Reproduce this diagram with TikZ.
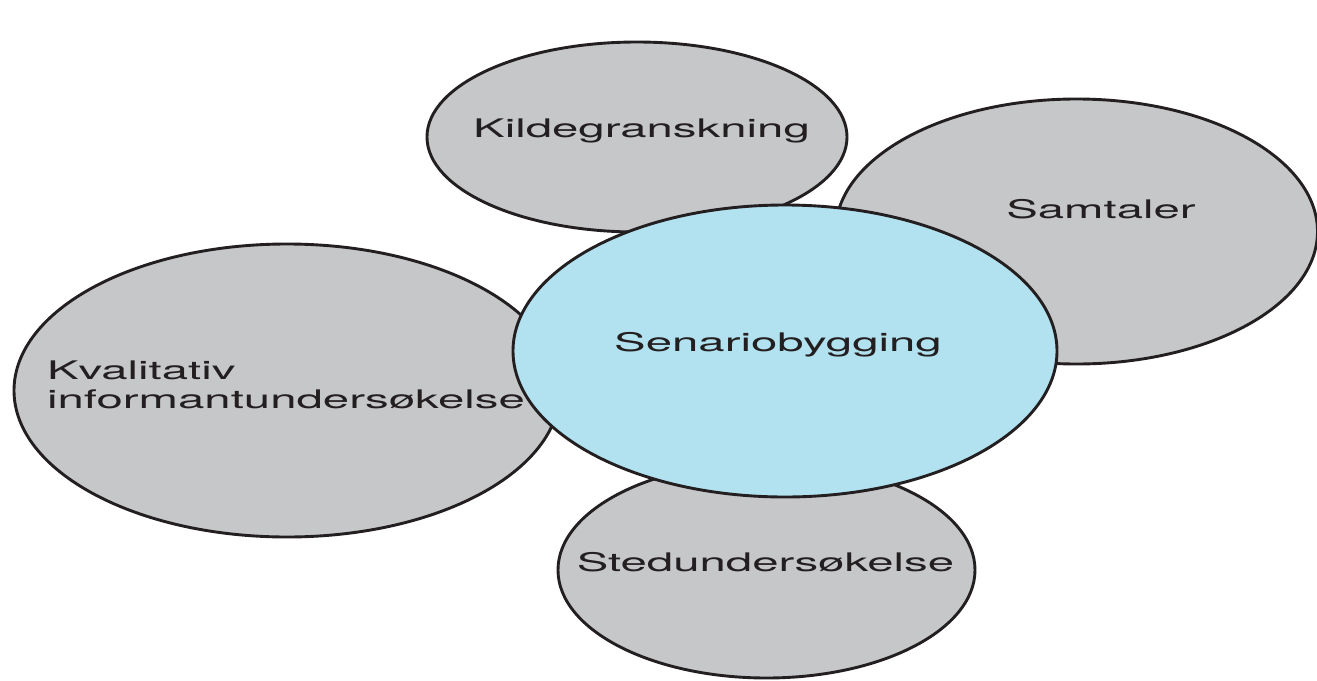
\documentclass[tikz,border=0pt]{standalone}
\usepackage{fontspec}
\setmainfont{TeX Gyre Heros}[FakeStretch=1.85]
\usetikzlibrary{shapes.geometric}
\definecolor{bubblegray}{HTML}{C6C7C9}
\definecolor{bubbleblue}{HTML}{B2E1EF}
\definecolor{outlinecol}{HTML}{231F20}
\begin{document}
\begin{tikzpicture}[x=1pt,y=-1pt,
  bubble/.style={ellipse, draw=outlinecol, line width=2.9pt, inner sep=0pt, outer sep=0pt},
  graybubble/.style={bubble, fill=bubblegray},
  bluebubble/.style={bubble, fill=bubbleblue},
  txtnode/.style={anchor=base, inner sep=0pt, outer sep=0pt, text=outlinecol,
    font=\fontsize{25.6}{29}\selectfont}]
\useasboundingbox (0,0) rectangle (1317,680);
\fill[white] (0,0) rectangle (1317,680);
% background bubbles
\node[graybubble, minimum width=420pt, minimum height=190pt] (kilde) at (637,137) {};
\node[graybubble, minimum width=482pt, minimum height=265pt] (samtal) at (1076.5,231.5) {};
\node[graybubble, minimum width=546pt, minimum height=293pt] (kval) at (287,390.5) {};
\node[graybubble, minimum width=417pt, minimum height=216pt] (sted) at (766.5,570) {};
% centre bubble
\node[bluebubble, minimum width=544pt, minimum height=292pt] (senario) at (785,351) {};
% texts
\node[txtnode] (kildetxt) at (641.5,137) {Kildegranskning};
\node[txtnode] (samtaltxt) at (1101,218) {Samtaler};
\node[txtnode] (senariotxt) at (778,351) {Senariobygging};
\node[txtnode, anchor=base west] (kvaltxt) at (47,379) {Kvalitativ};
\node[txtnode, anchor=base west] (kvaltxtb) at (47,408) {informantundersøkelse};
\node[txtnode] (stedtxt) at (765.5,571) {Stedundersøkelse};
\end{tikzpicture}
\end{document}
